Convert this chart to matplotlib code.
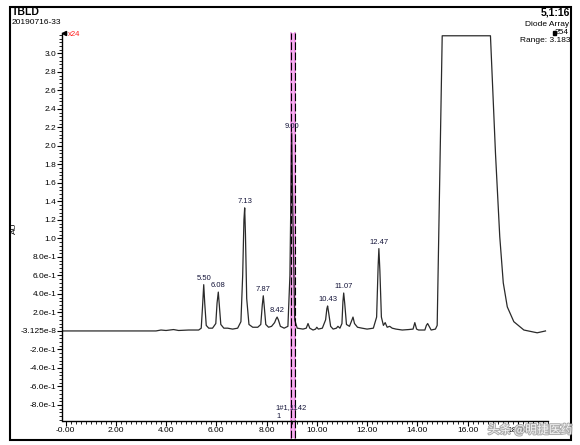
import matplotlib
matplotlib.use('Agg')
import matplotlib.pyplot as plt
from matplotlib.ticker import MultipleLocator, FixedLocator, FixedFormatter
from matplotlib.patches import Rectangle
import matplotlib.patheffects as pe

plt.rcParams['font.family'] = ['Liberation Sans', 'DejaVu Sans']

# ---- data ----
times = [-0.10, 2.00, 3.60, 3.80, 4.00, 4.30, 4.50, 4.90, 5.30,
         5.40, 5.45, 5.50, 5.54, 5.60, 5.70,
         5.85, 5.98, 6.03, 6.08, 6.12, 6.18, 6.30,
         6.45, 6.65, 6.85, 6.98, 7.05, 7.10, 7.13, 7.16, 7.21, 7.30,
         7.45, 7.65, 7.77, 7.83, 7.87, 7.91, 7.97, 8.08,
         8.20, 8.32, 8.38, 8.42, 8.47, 8.55, 8.70, 8.85, 8.93, 9.00, 9.05, 9.12, 9.22,
         9.45, 9.58, 9.65, 9.72, 9.85, 9.95, 10.00, 10.06, 10.22, 10.35, 10.40, 10.43,
         10.47, 10.55, 10.65, 10.78, 10.84, 10.92, 11.00, 11.04, 11.07, 11.11, 11.18,
         11.30, 11.40, 11.44, 11.50, 11.62, 11.80, 12.00, 12.25, 12.38, 12.44, 12.47,
         12.51, 12.57, 12.65, 12.72, 12.80, 12.90, 13.00, 13.15, 13.40, 13.65, 13.83,
         13.90, 13.97, 14.05, 14.30, 14.36, 14.41, 14.47, 14.55, 14.72, 14.79,
         14.99, 16.91, 17.11, 17.28, 17.42, 17.58, 17.84, 18.24, 18.77, 19.10]
absorb = [0.00, 0.00, 0.00, 0.01, 0.005, 0.015, 0.005, 0.01, 0.01,
          0.03, 0.25, 0.50, 0.30, 0.06, 0.03,
          0.03, 0.08, 0.30, 0.42, 0.28, 0.07, 0.03,
          0.03, 0.02, 0.03, 0.10, 0.60, 1.20, 1.33, 1.05, 0.35, 0.07,
          0.04, 0.04, 0.07, 0.28, 0.38, 0.26, 0.07, 0.04,
          0.05, 0.09, 0.13, 0.15, 0.12, 0.05, 0.03, 0.05, 0.60, 2.14, 1.20, 0.12, 0.03,
          0.02, 0.03, 0.08, 0.03, 0.01, 0.02, 0.04, 0.02, 0.03, 0.12, 0.24, 0.27,
          0.20, 0.05, 0.02, 0.03, 0.05, 0.03, 0.08, 0.32, 0.41, 0.30, 0.07,
          0.05, 0.12, 0.15, 0.08, 0.04, 0.03, 0.02, 0.03, 0.15, 0.70, 0.89,
          0.65, 0.15, 0.06, 0.09, 0.04, 0.05, 0.03, 0.02, 0.01, 0.015, 0.02,
          0.09, 0.02, 0.01, 0.01, 0.06, 0.08, 0.05, 0.01, 0.02, 0.06,
          3.19, 3.19, 1.92, 1.02, 0.52, 0.26, 0.10, 0.01, -0.02, 0.00]

peak_times = [5.50, 6.08, 7.13, 7.87, 8.42, 9.00, 10.43, 11.07, 12.47]
peak_heights = [0.50, 0.42, 1.33, 0.38, 0.15, 2.14, 0.27, 0.41, 0.89]
peak_labels = ["5.50", "6.08", "7.13", "7.87", "8.42", "9.00", "10.43", "11.07", "12.47"]

ytick_vals = [3.0, 2.8, 2.6, 2.4, 2.2, 2.0, 1.8, 1.6, 1.4, 1.2, 1.0, 0.8, 0.6, 0.4, 0.2,
              0.0, -0.2, -0.4, -0.6, -0.8]
ytick_labels = ["3.0", "2.8", "2.6", "2.4", "2.2", "2.0", "1.8", "1.6", "1.4", "1.2", "1.0",
                "8.0e-1", "6.0e-1", "4.0e-1", "2.0e-1", "-3.125e-8", "-2.0e-1", "-4.0e-1",
                "-6.0e-1", "-8.0e-1"]
xtick_vals = [0, 2, 4, 6, 8, 10, 12, 14, 16, 18]
xtick_labels = ["-0.00", "2.00", "4.00", "6.00", "8.00", "10.00", "12.00", "14.00", "16.00", "18.00"]

cursor_times = [8.96, 9.14]

W, H = 580, 445
fig = plt.figure(figsize=(W / 100, H / 100), dpi=100)
ax = fig.add_axes([62.5 / W, (H - 420.7) / H, (548 - 62.5) / W, (420.7 - 33) / H])
ax.set_xlim(-0.12, 19.2)
ax.set_ylim(-0.97, 3.22)

for s in ['top', 'right']:
    ax.spines[s].set_visible(False)
for s in ['left', 'bottom']:
    ax.spines[s].set_linewidth(1.0)

ax.xaxis.set_major_locator(FixedLocator(xtick_vals))
ax.xaxis.set_major_formatter(FixedFormatter(xtick_labels))
ax.xaxis.set_minor_locator(MultipleLocator(0.2))
ax.yaxis.set_major_locator(FixedLocator(ytick_vals))
ax.yaxis.set_major_formatter(FixedFormatter(ytick_labels))
ax.yaxis.set_minor_locator(MultipleLocator(0.04))
ax.tick_params(which='major', direction='out', length=3.5, width=0.8, labelsize=6, pad=1)
ax.tick_params(which='minor', direction='out', length=2, width=0.6)

# cursor lines (pink band with dashed black edges)
trans = ax.get_xaxis_transform()
ax.axvspan(cursor_times[0], cursor_times[1], ymin=-0.045, ymax=1.0, color='#f6b0f0',
           lw=0, clip_on=False, zorder=1)
for ct in cursor_times:
    ax.plot([ct, ct], [-0.045, 1.0], transform=trans, color='#f08ae6', lw=1.2,
            clip_on=False, zorder=1)
    ax.plot([ct, ct], [-0.045, 1.0], transform=trans, color='black', lw=0.8,
            dashes=(7, 2.2), clip_on=False, zorder=3)

# trace
ax.plot(times, absorb, color='#2a2a2a', lw=0.9, zorder=2)

# peak labels
for t, h, lab in zip(peak_times, peak_heights, peak_labels):
    ax.annotate(lab, (t, h), xytext=(0, 2), textcoords='offset points',
                ha='center', va='bottom', fontsize=5.5, color='#15153a', zorder=4)

# axis label and markers
fig.text(14 / W, 1 - 228 / H, "AU", rotation=90, fontsize=6, ha='center', va='center')
ax.plot([0.004], [1.0], transform=ax.transAxes, marker='<', ms=3, color='black',
        clip_on=False)
fig.text(68 / W, 1 - 34 / H, "x24", color='#ff2020', fontsize=5.5, ha='left', va='center')
fig.text(275 / W, 1 - 408 / H, "1#1,1142", fontsize=5.5, ha='left', va='center', color='#15153a')
fig.text(276 / W, 1 - 417 / H, "1", fontsize=5.5, ha='left', va='center', color='#15153a')

# header texts
fig.text(12 / W, 1 - 12 / H, "TBLD", fontsize=7.5, fontweight='bold', ha='left', va='center')
fig.text(12 / W, 1 - 23 / H, "20190716-33", fontsize=6, ha='left', va='center')
fig.text(570 / W, 1 - 12.5 / H, "5,1:16", fontsize=7.5, fontweight='bold', ha='right', va='center')
fig.text(569 / W, 1 - 24 / H, "Diode Array", fontsize=6, ha='right', va='center')
fig.text(569 / W, 1 - 32.5 / H, "254", fontsize=6, ha='right', va='center')
fig.patches.append(Rectangle((553 / W, 1 - 35 / H), 2.5 / W, 4.5 / H, transform=fig.transFigure,
                             color='black'))
fig.text(570 / W, 1 - 41 / H, "Range: 3.183", fontsize=6, ha='right', va='center')

# outer frame
fig.patches.append(Rectangle((9.5 / W, 1 - 440 / H), (571 - 9.5) / W, (440 - 7) / H,
                             transform=fig.transFigure, fill=False, edgecolor='black', lw=1.5))

# watermark
fig.text(572 / W, 1 - 430 / H, "头条 @明捷医药", fontsize=8.5, ha='right', va='center',
         color='white', alpha=0.85, family=['Noto Sans CJK SC', 'DejaVu Sans'],
         path_effects=[pe.withStroke(linewidth=1.5, foreground='#a0a0a0')])

fig.savefig('out.png', dpi=100)
